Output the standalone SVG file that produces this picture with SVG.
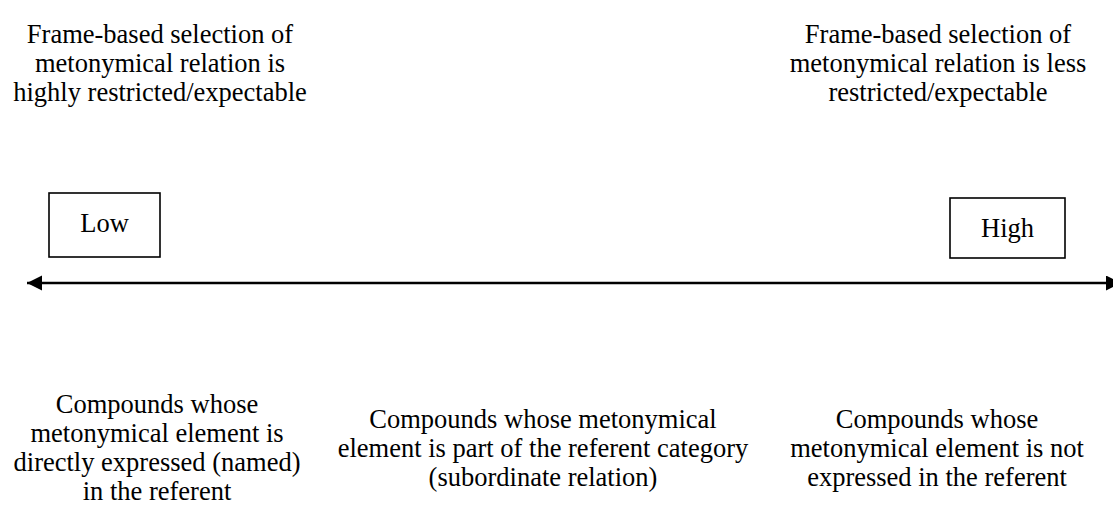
<svg xmlns="http://www.w3.org/2000/svg" width="1113" height="507" viewBox="0 0 1113 507">
  <style>
    text { font-family: "Liberation Serif", "Times New Roman", serif; font-size: 26.5px; fill: #000; text-anchor: middle; }
    .box { fill: #fff; stroke: #000; stroke-width: 1.6; }
    .axis { stroke: #000; stroke-width: 2.4; fill: none; }
  </style>
  <defs>
    <marker id="head" markerUnits="userSpaceOnUse" markerWidth="16" markerHeight="16" refX="15" refY="7.5" orient="auto-start-reverse">
      <path d="M0,0 L15,7.5 L0,15 z" fill="#000"/>
    </marker>
  </defs>
  <rect width="1113" height="507" fill="#fff"/>

  <g id="top-left-label">
    <text x="160" y="43">Frame-based selection of</text>
    <text x="160" y="72">metonymical relation is</text>
    <text x="160" y="101">highly restricted/expectable</text>
  </g>
  <g id="top-right-label">
    <text x="938" y="43">Frame-based selection of</text>
    <text x="938" y="72">metonymical relation is less</text>
    <text x="938" y="101">restricted/expectable</text>
  </g>

  <g id="low">
    <rect class="box" x="49" y="193" width="111" height="64"/>
    <text x="104.5" y="232">Low</text>
  </g>
  <g id="high">
    <rect class="box" x="950" y="198" width="115" height="60"/>
    <text x="1007.5" y="237">High</text>
  </g>

  <g id="connectors">
    <line class="axis" x1="27" y1="283" x2="1121" y2="283" marker-start="url(#head)" marker-end="url(#head)"/>
  </g>

  <g id="bottom-left-label">
    <text x="157" y="413">Compounds whose</text>
    <text x="157" y="442">metonymical element is</text>
    <text x="157" y="471">directly expressed (named)</text>
    <text x="157" y="500">in the referent</text>
  </g>
  <g id="bottom-middle-label">
    <text x="543" y="428">Compounds whose metonymical</text>
    <text x="543" y="457">element is part of the referent category</text>
    <text x="543" y="486">(subordinate relation)</text>
  </g>
  <g id="bottom-right-label">
    <text x="937" y="428">Compounds whose</text>
    <text x="937" y="457">metonymical element is not</text>
    <text x="937" y="486">expressed in the referent</text>
  </g>
</svg>
